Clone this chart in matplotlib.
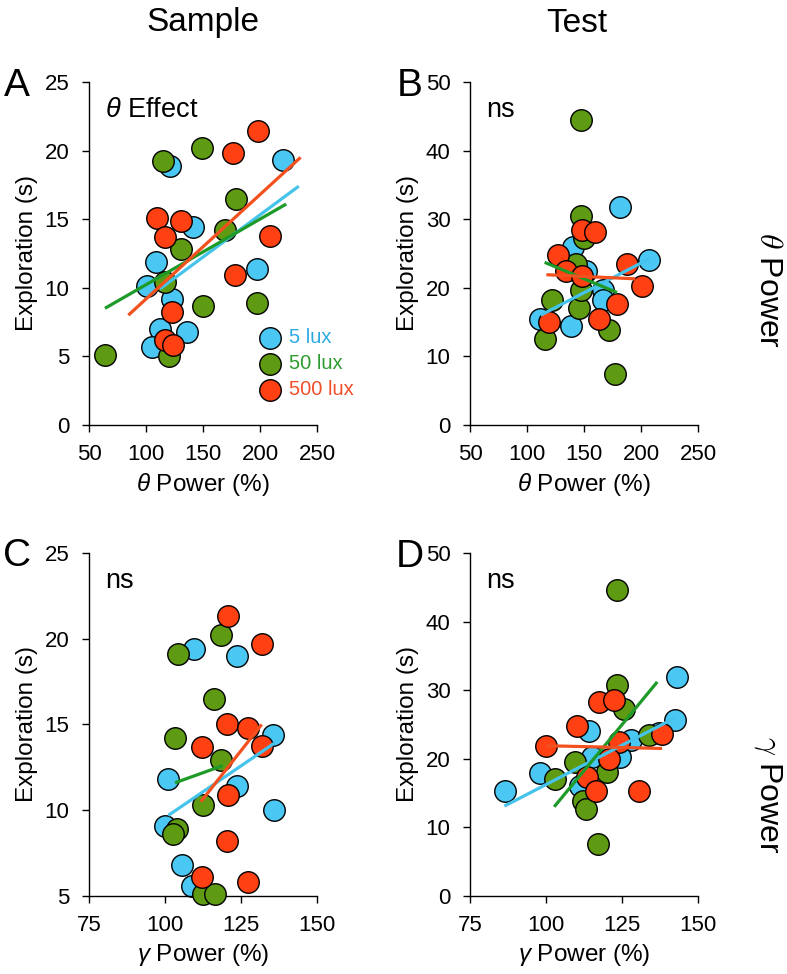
import numpy as np
import matplotlib
matplotlib.use("Agg")
import matplotlib.pyplot as plt

plt.rcParams['font.family'] = ['Liberation Sans', 'DejaVu Sans']
plt.rcParams['mathtext.fontset'] = 'custom'
plt.rcParams['mathtext.it'] = 'Liberation Sans:italic'
plt.rcParams['mathtext.rm'] = 'Liberation Sans'

# -------------------------------------------------
# data
# -------------------------------------------------
groups = ["5 lux", "50 lux", "500 lux"]

# A: sample, theta power
A_cyan_x = [220, 121, 141, 109, 101, 123, 112, 136, 105, 197]
A_cyan_y = [19.3, 18.9, 14.4, 11.9, 10.1, 9.2, 7.0, 6.8, 5.7, 11.4]
A_green_x = [64, 115, 149, 179, 169, 131, 117, 150, 197, 120]
A_green_y = [5.1, 19.2, 20.2, 16.5, 14.2, 12.8, 10.4, 8.7, 8.9, 5.0]
A_red_x = [198.5, 176, 110, 131, 117, 209, 178, 123, 117, 123.5]
A_red_y = [21.4, 19.85, 15.05, 14.9, 13.7, 13.8, 10.9, 8.2, 6.2, 5.8]
A_fit_x = [[112, 234], [64, 223], [84.5, 235.6]]
A_fit_y = [[9.9, 17.4], [8.5, 16.1], [8.0, 19.5]]

# B: test, theta power
B_cyan_x = [182, 207, 140, 111, 139, 167, 167, 152]
B_cyan_y = [31.8, 24.1, 25.9, 15.4, 14.4, 19.6, 18.2, 22.5]
B_green_x = [147, 147, 150, 122, 146, 116, 172, 177, 147, 143]
B_green_y = [44.5, 30.5, 27.3, 18.2, 17.0, 12.5, 13.8, 7.4, 19.6, 23.5]
B_red_x = [148, 160, 127.5, 134, 148.5, 188, 201, 179, 163, 119]
B_red_y = [28.4, 28.1, 24.7, 22.5, 21.7, 23.5, 20.2, 17.6, 15.5, 15.0]
B_fit_x = [[112, 207], [115.5, 179], [117, 195]]
B_fit_y = [[16.0, 24.2], [23.7, 19.3], [21.9, 21.3]]

# C: sample, gamma power
C_cyan_x = [109.5, 123.6, 135.6, 101.1, 123.6, 135.9, 100, 105.5, 108.8]
C_cyan_y = [19.4, 19.0, 14.4, 11.8, 11.4, 10.0, 9.1, 6.8, 5.6]
C_green_x = [104.4, 118.4, 116.2, 103.3, 118.4, 112.6, 103.8, 102.7, 112.5, 116.4]
C_green_y = [19.1, 20.2, 16.5, 14.2, 12.9, 10.3, 8.9, 8.6, 5.1, 5.1]
C_red_x = [120.6, 131.8, 120.3, 127.4, 112.1, 131.8, 120.8, 120.3, 112.1, 127.2]
C_red_y = [21.3, 19.7, 15.0, 14.8, 13.7, 13.75, 10.9, 8.2, 6.1, 5.8]
C_fit_x = [[101.1, 135.9], [103.3, 119], [111.8, 131.8]]
C_fit_y = [[9.7, 13.9], [11.6, 12.6], [10.5, 15.0]]

# D: test, gamma power
D_cyan_x = [143.2, 142.6, 114.2, 98, 86.4, 128, 137.1, 115.1, 124.3, 111.3]
D_cyan_y = [31.9, 25.6, 24.0, 17.9, 15.3, 22.7, 23.8, 20.3, 20.2, 16.0]
D_green_x = [123.4, 123.4, 125.6, 109.4, 103, 120.1, 112.1, 113.3, 117.2, 134]
D_green_y = [44.6, 30.7, 27.2, 19.6, 17.1, 18.0, 13.9, 12.7, 7.6, 23.4]
D_red_x = [117.3, 122.3, 110.2, 100.1, 124, 138.2, 120.6, 113.5, 116.4, 130.5]
D_red_y = [28.3, 28.5, 24.8, 21.8, 22.4, 23.6, 20.0, 17.4, 15.3, 15.3]
D_fit_x = [[86.3, 142.6], [102.7, 136.6], [100.1, 138.2]]
D_fit_y = [[13.1, 26.0], [13.0, 31.2], [21.9, 21.5]]

theta_xticks = [50, 100, 150, 200, 250]
gamma_xticks = [75, 100, 125, 150]
sample_yticks = [0, 5, 10, 15, 20, 25]
sample_yticks_c = [5, 10, 15, 20, 25]
test_yticks = [0, 10, 20, 30, 40, 50]

# -------------------------------------------------
# styles
# -------------------------------------------------
dot_colors = ["#4AC7F2", "#5E9B12", "#FF4012"]
line_colors = ["#45C3EA", "#1E9A28", "#F2501E"]
text_colors = ["#2BAAE2", "#2E9B2E", "#F0502A"]

fig = plt.figure(figsize=(7.87, 9.74), dpi=100)

w, h = 0.2897, 0.3522
rects = {
    "A": [0.1131, 0.5637, w, h],
    "B": [0.5972, 0.5637, w, h],
    "C": [0.1131, 0.0801, w, h],
    "D": [0.5972, 0.0801, w, h],
}

panels = {
    "A": ([A_cyan_x, A_green_x, A_red_x], [A_cyan_y, A_green_y, A_red_y], A_fit_x, A_fit_y,
          theta_xticks, sample_yticks, r"$\theta$ Power (%)", r"$\theta$ Effect"),
    "B": ([B_cyan_x, B_green_x, B_red_x], [B_cyan_y, B_green_y, B_red_y], B_fit_x, B_fit_y,
          theta_xticks, test_yticks, r"$\theta$ Power (%)", "ns"),
    "C": ([C_cyan_x, C_green_x, C_red_x], [C_cyan_y, C_green_y, C_red_y], C_fit_x, C_fit_y,
          gamma_xticks, sample_yticks_c, r"$\gamma$ Power (%)", "ns"),
    "D": ([D_cyan_x, D_green_x, D_red_x], [D_cyan_y, D_green_y, D_red_y], D_fit_x, D_fit_y,
          gamma_xticks, test_yticks, r"$\gamma$ Power (%)", "ns"),
}

for key, (xs, ys, fx, fy, xt, yt, xlab, note) in panels.items():
    ax = fig.add_axes(rects[key])
    handles = []
    for i in range(3):
        sc = ax.scatter(xs[i], ys[i], s=240, c=dot_colors[i], edgecolors="black",
                        linewidths=1.0, zorder=2 + i, clip_on=False, label=groups[i])
        handles.append(sc)
    for i in range(3):
        ax.plot(fx[i], fy[i], color=line_colors[i], lw=2.3, zorder=6,
                solid_capstyle="butt")

    ax.set_xlim(xt[0], xt[-1])
    ax.set_ylim(yt[0], yt[-1])
    ax.set_xticks(xt)
    ax.set_yticks(yt)
    ax.spines["top"].set_visible(False)
    ax.spines["right"].set_visible(False)
    for s in ["left", "bottom"]:
        ax.spines[s].set_linewidth(1.0)
    ax.tick_params(direction="out", length=5, width=1.0, labelsize=16, pad=9)
    ax.set_xlabel(xlab, fontsize=17.5, labelpad=4)
    ax.set_ylabel("Exploration (s)", fontsize=17.5, labelpad=5)
    ax.text(0.07, 0.918, note, transform=ax.transAxes, fontsize=19.5,
            ha="left", va="center")

    if key == "A":
        leg = ax.legend(handles=handles, loc="upper left", bbox_to_anchor=(0.75, 0.283),
                        frameon=False, fontsize=14.5, handlelength=1.0,
                        handletextpad=0.45, borderpad=0, borderaxespad=0,
                        labelspacing=0.35, scatterpoints=1)
        for t, c in zip(leg.get_texts(), text_colors):
            t.set_color(c)

# panel letters
for key, (px, py) in {"A": (17, 86), "B": (410, 86), "C": (17, 556), "D": (410, 557)}.items():
    fig.text(px / 787, 1 - py / 974, key, fontsize=28, ha="center", va="center")

# column titles
fig.text(0.258, 1 - 23 / 974, "Sample", fontsize=24, ha="center", va="center")
fig.text(0.733, 1 - 23 / 974, "Test", fontsize=24, ha="center", va="center")

# row labels
fig.text(768 / 787, 1 - 290 / 974, r"$\theta$ Power", fontsize=23, rotation=270,
         ha="center", va="center", math_fontfamily="cm")
fig.text(768 / 787, 1 - 795 / 974, r"$\gamma$ Power", fontsize=23, rotation=270,
         ha="center", va="center", math_fontfamily="cm")

fig.savefig("out.png", dpi=100)
